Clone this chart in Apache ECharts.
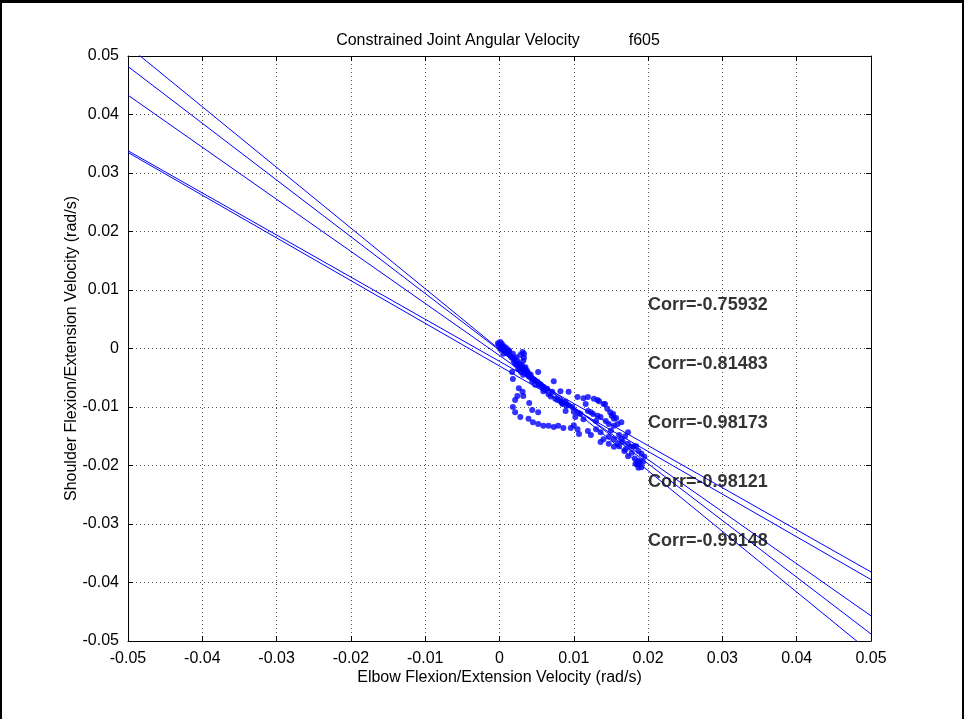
<!DOCTYPE html>
<html>
<head>
<meta charset="utf-8">
<script src="https://cdn.jsdelivr.net/npm/echarts@6/dist/echarts.min.js"></script>
<style>
  html, body { margin: 0; padding: 0; background: #fff; }
  #frame { position: absolute; left: 0; top: 0; width: 964px; height: 719px; box-sizing: border-box;
           border-top: 3px solid #000; border-left: 2px solid #000; border-right: 2px solid #000; }
  #chart { position: absolute; left: 0; top: 0; width: 964px; height: 719px; }
</style>
</head>
<body>
<div id="chart"></div>
<div id="frame"></div>
<script>
// Tick positions on both axes
const xTicks = [-0.05, -0.04, -0.03, -0.02, -0.01, 0, 0.01, 0.02, 0.03, 0.04, 0.05];
const yTicks = [-0.05, -0.04, -0.03, -0.02, -0.01, 0, 0.01, 0.02, 0.03, 0.04, 0.05];

// Measured elbow / shoulder angular velocity samples (rad/s)
const elbowVel = [
  -0.0002, -0.0001, 0.0001, 0.0002, 0.0003, 0.0005, 0.0006, 0.0007, 0.0001, 0.0009,
  0.0010, 0.0005, 0.0013, 0.0014, 0.0016, 0.0018, 0.0020, 0.0022, 0.0024, 0.0026,
  0.0021, 0.0028, 0.0031, 0.0025, 0.0033, 0.0036, 0.0032, 0.0029, 0.0039, 0.0028,
  0.0031, 0.0033, 0.0033, 0.0032, 0.0035, 0.0037, 0.0040, 0.0017, 0.0018, 0.0052,
  0.0073, 0.0082, 0.0093, 0.0041, 0.0045, 0.0051, 0.0055, 0.0059, 0.0064, 0.0059,
  0.0066, 0.0071, 0.0048, 0.0044, 0.0026, 0.0031, 0.0032, 0.0024, 0.0021, 0.0018,
  0.0021, 0.0028, 0.0039, 0.0045, 0.0052, 0.0059, 0.0066, 0.0073, 0.0079, 0.0086,
  0.0096, 0.0100, 0.0040, 0.0044, 0.0052, 0.0089, 0.0075, 0.0082, 0.0089, 0.0093,
  0.0098, 0.0090, 0.0085, 0.0105, 0.0113, 0.0119, 0.0127, 0.0132, 0.0140, 0.0145,
  0.0149, 0.0151, 0.0154, 0.0157, 0.0153, 0.0119, 0.0126, 0.0132, 0.0136, 0.0143,
  0.0147, 0.0154, 0.0105, 0.0107, 0.0119, 0.0123, 0.0130, 0.0136, 0.0140, 0.0147,
  0.0154, 0.0159, 0.0164, 0.0169, 0.0173, 0.0177, 0.0184, 0.0187, 0.0191, 0.0195,
  0.0187, 0.0189, 0.0183, 0.0187, 0.0173, 0.0168, 0.0161, 0.0154, 0.0147, 0.0136,
  0.0116, 0.0123, 0.0134, 0.0142, 0.0159, 0.0164, 0.0173, 0.0181, 0.0193, 0.0191,
  0.0109, 0.0113, 0.0102, 0.0130, 0.0003, 0.0008, 0.0011, 0.0004, 0.0012, 0.0019,
  0.0023, 0.0027, 0.0030, 0.0034, 0.0038, 0.0042, 0.0047, 0.0053, 0.0057, 0.0062,
  0.0069, 0.0078, 0.0084, 0.0100, 0.0106, 0.0150, 0.0161, 0.0166, 0.0170, 0.0178,
  0.0182, 0.0185
];
const shoulderVel = [
  0.0009, 0.0006, 0.0011, 0.0003, 0.0008, -0.0001, 0.0004, -0.0004, -0.0001, 0.0001,
  -0.0008, -0.0009, -0.0004, -0.0011, -0.0015, -0.0009, -0.0018, -0.0015, -0.0021, -0.0025,
  -0.0026, -0.0030, -0.0033, -0.0035, -0.0037, -0.0042, -0.0045, -0.0040, -0.0047, -0.0011,
  -0.0006, -0.0009, -0.0016, -0.0021, -0.0032, -0.0038, -0.0044, -0.0040, -0.0052, -0.0040,
  -0.0056, -0.0073, -0.0074, -0.0049, -0.0052, -0.0057, -0.0061, -0.0066, -0.0069, -0.0073,
  -0.0078, -0.0074, -0.0062, -0.0056, -0.0068, -0.0074, -0.0081, -0.0081, -0.0088, -0.0100,
  -0.0109, -0.0117, -0.0120, -0.0126, -0.0129, -0.0132, -0.0132, -0.0134, -0.0132, -0.0136,
  -0.0136, -0.0131, -0.0093, -0.0105, -0.0109, -0.0107, -0.0086, -0.0090, -0.0091, -0.0097,
  -0.0100, -0.0098, -0.0095, -0.0083, -0.0085, -0.0083, -0.0086, -0.0088, -0.0095, -0.0103,
  -0.0109, -0.0115, -0.0120, -0.0119, -0.0112, -0.0107, -0.0112, -0.0115, -0.0117, -0.0124,
  -0.0129, -0.0132, -0.0138, -0.0146, -0.0141, -0.0148, -0.0138, -0.0143, -0.0155, -0.0151,
  -0.0155, -0.0163, -0.0155, -0.0150, -0.0163, -0.0168, -0.0167, -0.0175, -0.0180, -0.0185,
  -0.0192, -0.0194, -0.0197, -0.0204, -0.0184, -0.0175, -0.0167, -0.0168, -0.0163, -0.0160,
  -0.0095, -0.0109, -0.0090, -0.0095, -0.0129, -0.0126, -0.0143, -0.0167, -0.0194, -0.0203,
  -0.0112, -0.0121, -0.0117, -0.0124, 0.0005, -0.0002, -0.0006, 0.0002, -0.0003, -0.0021,
  -0.0028, -0.0036, -0.0028, -0.0034, -0.0041, -0.0045, -0.0054, -0.0063, -0.0065, -0.0071,
  -0.0082, -0.0088, -0.0093, -0.0108, -0.0110, -0.0140, -0.0148, -0.0160, -0.0172, -0.0178,
  -0.0188, -0.0198
];

// Fitted lines: shoulder velocity at the left (x = -0.05) and right (x = 0.05) edges
const fitX = [-0.05, 0.05];
const fitLeftY = [0.0517, 0.0482, 0.0433, 0.0338, 0.0335];
const fitRightY = [-0.0520, -0.0488, -0.0457, -0.0382, -0.0395];

// Correlation annotations
const corrText = ['Corr=-0.75932', 'Corr=-0.81483', 'Corr=-0.98173', 'Corr=-0.98121', 'Corr=-0.99148'];
const corrX = 0.02;
const corrY = [0.0074, -0.0027, -0.0127, -0.0228, -0.0329];

const FONT = '"Liberation Sans", Arial, Helvetica, sans-serif';
const chart = echarts.init(document.getElementById('chart'), null, { renderer: 'canvas' });

const fitSeries = fitLeftY.map((yl, i) => ({
  type: 'line',
  xAxisIndex: 0, yAxisIndex: 0,
  data: [[fitX[0], yl], [fitX[1], fitRightY[i]]],
  symbol: 'none',
  clip: true,
  silent: true,
  lineStyle: { color: '#0000ff', width: 1 },
  z: 3
}));

const scatterData = elbowVel.map((x, i) => [x, shoulderVel[i]]);

const baseX = {
  type: 'value', min: -0.05, max: 0.05, interval: 0.01,
  axisLine: { show: true, onZero: false, lineStyle: { color: '#000', width: 1 } },
  axisTick: { show: true, inside: true, length: 5, lineStyle: { color: '#000' } },
  splitLine: { show: false }
};
const baseY = {
  type: 'value', min: -0.05, max: 0.05, interval: 0.01,
  axisLine: { show: true, onZero: false, lineStyle: { color: '#000', width: 1 } },
  axisTick: { show: true, inside: true, length: 5, lineStyle: { color: '#000' } },
  splitLine: { show: false }
};
const fmt = v => (Math.abs(v) < 1e-9 ? '0' : String(Math.round(v * 100) / 100));

chart.setOption({
  animation: false,
  backgroundColor: '#fff',
  title: {
    text: 'Constrained Joint Angular Velocity           f605',
    left: 493, top: 28, textAlign: 'center',
    textStyle: { fontFamily: FONT, fontSize: 16, fontWeight: 'normal', color: '#000' }
  },
  grid: { left: 128, right: 93, top: 56, bottom: 78, containLabel: false },
  xAxis: [
    Object.assign({}, baseX, {
      position: 'bottom',
      name: 'Elbow Flexion/Extension Velocity (rad/s)',
      nameLocation: 'middle', nameGap: 29,
      nameMoveOverlap: false,
      nameTextStyle: { fontFamily: FONT, fontSize: 16, color: '#000' },
      axisLabel: { show: true, margin: 10, fontFamily: FONT, fontSize: 16, color: '#000', formatter: fmt },
      splitLine: { show: true, lineStyle: { color: '#555', type: [1, 3], width: 1 } }
    }),
    Object.assign({}, baseX, { position: 'top', axisLabel: { show: false } })
  ],
  yAxis: [
    Object.assign({}, baseY, {
      position: 'left',
      name: 'Shoulder Flexion/Extension Velocity (rad/s)',
      nameLocation: 'middle', nameGap: 48,
      nameMoveOverlap: false,
      nameTextStyle: { fontFamily: FONT, fontSize: 16, color: '#000' },
      axisLabel: { show: true, margin: 9, fontFamily: FONT, fontSize: 16, color: '#000', formatter: fmt },
      splitLine: { show: true, lineStyle: { color: '#555', type: [1, 3], width: 1 } }
    }),
    Object.assign({}, baseY, { position: 'right', axisLabel: { show: false } })
  ],
  series: [
    ...fitSeries,
    {
      type: 'scatter',
      xAxisIndex: 0, yAxisIndex: 0,
      data: scatterData,
      symbol: 'circle',
      symbolSize: 6,
      itemStyle: { color: '#0000ff' },
      silent: true,
      z: 4
    },
    {
      type: 'scatter',
      xAxisIndex: 0, yAxisIndex: 0,
      data: corrY.map((y, i) => ({ value: [corrX, y], name: corrText[i] })),
      symbolSize: 0,
      silent: true,
      label: {
        show: true, position: 'right', distance: 0,
        formatter: p => p.name,
        fontFamily: FONT, fontSize: 18, fontWeight: 'bold', color: '#000'
      },
      z: 5
    }
  ]
});
</script>
</body>
</html>
